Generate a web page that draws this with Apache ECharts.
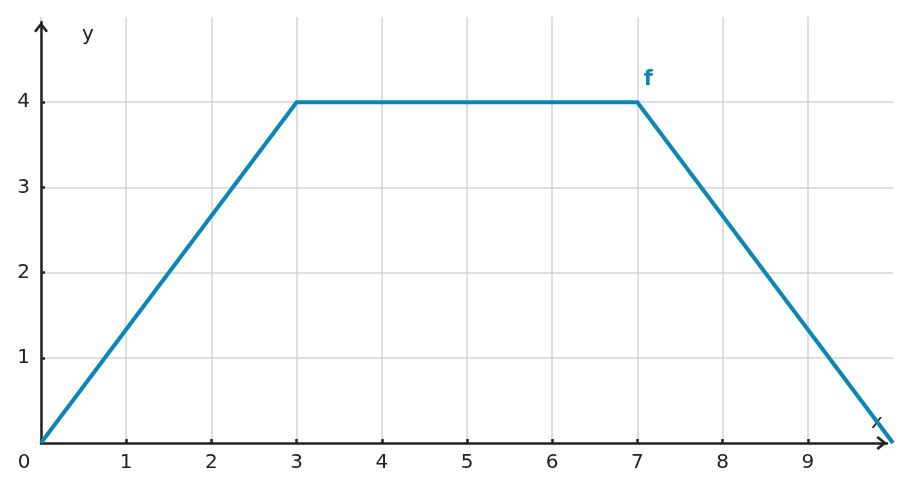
<!DOCTYPE html>
<html>
<head>
<meta charset="utf-8">
<script src="https://cdn.jsdelivr.net/npm/echarts@6/dist/echarts.min.js"></script>
<style>html,body{margin:0;padding:0;background:#fff}#c{width:910px;height:491px}</style>
</head>
<body>
<div id="c"></div>
<script>
const xValues = [0, 3, 7, 10];
const yValues = [0, 4, 4, 0];
const xTicks = [0, 1, 2, 3, 4, 5, 6, 7, 8, 9];
const yTicks = [1, 2, 3, 4];
const seriesName = 'f';

const FONT = 'DejaVu Sans';
const AX = '#222222';
const BLUE = '#0a86b8';
const FS = 20;
const chevron = 'path://M7,0 L14,9 L12,10.6 L7,4.2 L2,10.6 L0,9 Z';

const chart = echarts.init(document.getElementById('c'), null, {renderer: 'canvas'});
chart.setOption({
  animation: false,
  grid: [
    {left: 41, right: 17, top: 17, bottom: 48, containLabel: false},
    {left: 41, right: 23, top: 22, bottom: 48, containLabel: false}
  ],
  xAxis: [{
    type: 'value', gridIndex: 0, min: 0, max: 10, interval: 1,
    axisLine: {show: false},
    axisTick: {show: true, inside: true, length: 4, customValues: xTicks, lineStyle: {color: AX, width: 2.5}},
    axisLabel: {
      show: true, margin: 10, color: AX, fontFamily: FONT, fontSize: FS,
      customValues: xTicks,
      formatter: v => v === 0 ? '{z|0}' : String(v),
      rich: {z: {padding: [0, 34, 0, 0], color: AX, fontFamily: FONT, fontSize: FS}}
    },
    splitLine: {show: true, showMinLine: true, showMaxLine: true, lineStyle: {color: '#d3d3d3', width: 1.5}},
    name: 'x', nameLocation: 'end', nameGap: -16,
    nameTextStyle: {color: AX, fontFamily: FONT, fontSize: FS, align: 'center', verticalAlign: 'bottom', padding: [0, 0, 10, 0], textBorderColor: '#fff', textBorderWidth: 4}
  }, {
    type: 'value', gridIndex: 1, min: 0, max: 1,
    axisLine: {show: true, symbol: ['none', chevron], symbolSize: [14, 10.6], symbolOffset: [0, -5.3], lineStyle: {color: AX, width: 2.5}},
    axisTick: {show: false}, axisLabel: {show: false}, splitLine: {show: false}
  }],
  yAxis: [{
    type: 'value', gridIndex: 0, min: 0, max: 5, interval: 1,
    axisLine: {show: false},
    axisTick: {show: true, inside: true, length: 4, customValues: yTicks, lineStyle: {color: AX, width: 2.5}},
    axisLabel: {show: true, margin: 11, color: AX, fontFamily: FONT, fontSize: FS, customValues: yTicks},
    splitLine: {show: true, showMinLine: true, showMaxLine: true, lineStyle: {color: '#d3d3d3', width: 1.5}},
    name: 'y', nameLocation: 'end', nameGap: -18,
    nameTextStyle: {color: AX, fontFamily: FONT, fontSize: FS, align: 'left', verticalAlign: 'middle', padding: [0, 0, 0, 41]}
  }, {
    type: 'value', gridIndex: 1, min: 0, max: 1,
    axisLine: {show: true, symbol: ['none', chevron], symbolSize: [14, 10.6], symbolOffset: [0, -5.3], lineStyle: {color: AX, width: 2.5}},
    axisTick: {show: false}, axisLabel: {show: false}, splitLine: {show: false}
  }],
  series: [{
    type: 'line', name: seriesName, xAxisIndex: 0, yAxisIndex: 0,
    data: xValues.map((x, i) => {
      const d = {value: [x, yValues[i]]};
      if (i === 2) d.label = {show: true, formatter: seriesName, position: 'top', offset: [11, -7], color: BLUE, fontFamily: FONT, fontSize: 21, fontWeight: 'bold'};
      return d;
    }),
    symbol: 'circle', symbolSize: 0, showSymbol: true,
    lineStyle: {color: BLUE, width: 4, join: 'miter'},
    itemStyle: {color: BLUE},
    label: {show: false},
    z: 1
  }]
});
</script>
</body>
</html>
